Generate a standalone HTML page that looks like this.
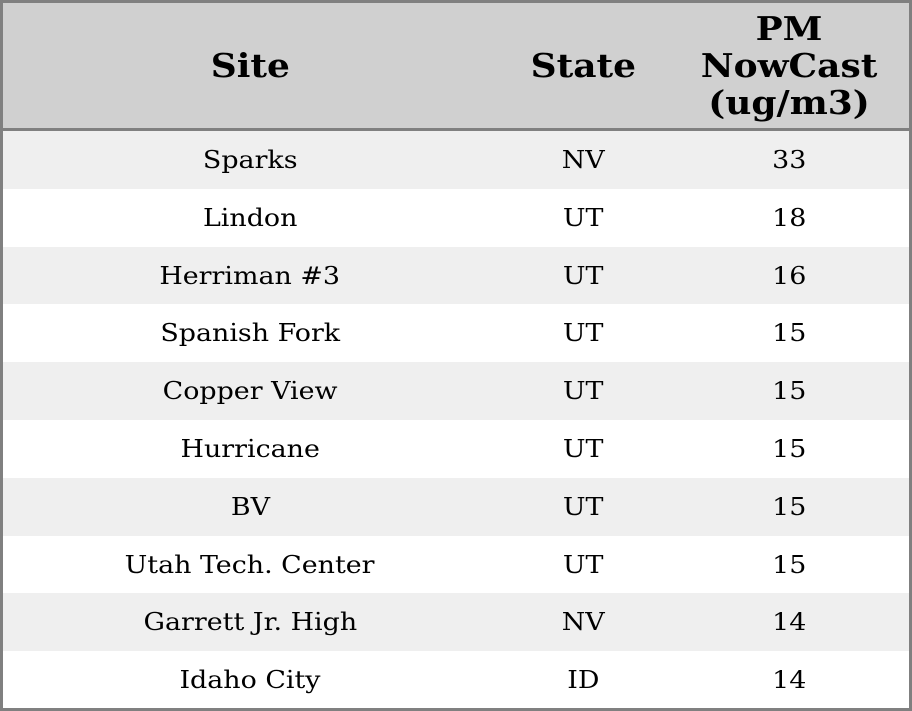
<!DOCTYPE html>
<html><head><style>
body{margin:0;width:912px;height:711px;background:#fff;font-family:"DejaVu Serif",serif;overflow:hidden}
.wrap{position:absolute;left:0;top:0;width:906px;height:705px;border:3px solid #808080;background:#fff}
.hdr{position:absolute;left:0;top:0;width:906px;height:125px;background:#d0d0d0;border-bottom:3px solid #808080}
.c{position:absolute;display:flex;align-items:center;justify-content:center;text-align:center}
.c span{display:inline-block;transform:scaleX(1.12)}
.h{font-weight:bold;font-size:33px;line-height:37px;height:125px;top:0}
.h span{transform:scaleX(1.09)}
.row{position:absolute;left:0;width:906px;height:57.9px}
.row .c{height:57.9px;top:0;font-size:24px}
.c1{left:0;width:494px}.c2{left:494px;width:172px}.c3{left:666px;width:240px}
</style></head><body>
<div class="wrap">
<div class="hdr">
<div class="c h c1"><span>Site</span></div>
<div class="c h c2"><span>State</span></div>
<div class="c h c3"><span>PM<br>NowCast<br>(ug/m3)</span></div>
</div>
<div class="row" style="top:128px;background:#efefef"><div class="c c1"><span>Sparks</span></div><div class="c c2"><span>NV</span></div><div class="c c3"><span>33</span></div></div>
<div class="row" style="top:185.8px"><div class="c c1"><span>Lindon</span></div><div class="c c2"><span>UT</span></div><div class="c c3"><span>18</span></div></div>
<div class="row" style="top:243.6px;background:#efefef"><div class="c c1"><span>Herriman #3</span></div><div class="c c2"><span>UT</span></div><div class="c c3"><span>16</span></div></div>
<div class="row" style="top:301.4px"><div class="c c1"><span>Spanish Fork</span></div><div class="c c2"><span>UT</span></div><div class="c c3"><span>15</span></div></div>
<div class="row" style="top:359.2px;background:#efefef"><div class="c c1"><span>Copper View</span></div><div class="c c2"><span>UT</span></div><div class="c c3"><span>15</span></div></div>
<div class="row" style="top:417px"><div class="c c1"><span>Hurricane</span></div><div class="c c2"><span>UT</span></div><div class="c c3"><span>15</span></div></div>
<div class="row" style="top:474.8px;background:#efefef"><div class="c c1"><span>BV</span></div><div class="c c2"><span>UT</span></div><div class="c c3"><span>15</span></div></div>
<div class="row" style="top:532.6px"><div class="c c1"><span>Utah Tech. Center</span></div><div class="c c2"><span>UT</span></div><div class="c c3"><span>15</span></div></div>
<div class="row" style="top:590.4px;background:#efefef"><div class="c c1"><span>Garrett Jr. High</span></div><div class="c c2"><span>NV</span></div><div class="c c3"><span>14</span></div></div>
<div class="row" style="top:648.2px"><div class="c c1"><span>Idaho City</span></div><div class="c c2"><span>ID</span></div><div class="c c3"><span>14</span></div></div>
</div>
</body></html>
